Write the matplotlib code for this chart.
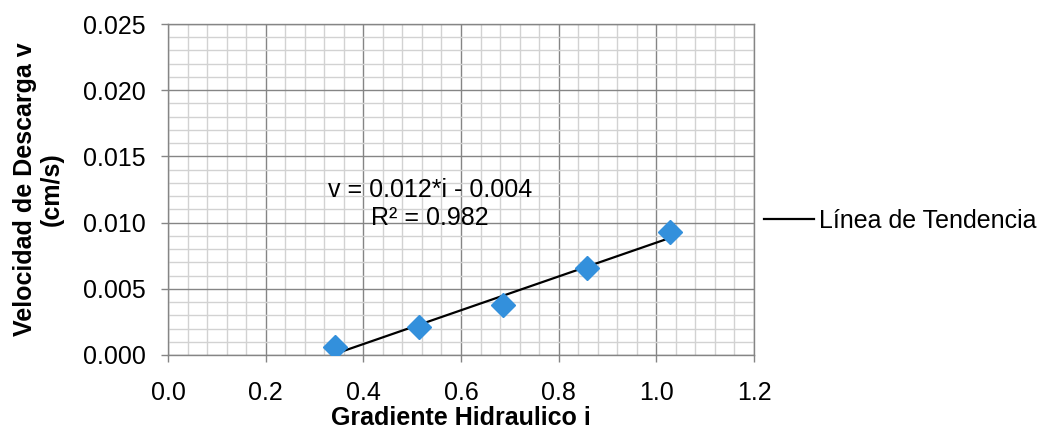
import numpy as np
import matplotlib
matplotlib.use("Agg")
import matplotlib.pyplot as plt
from matplotlib.ticker import MultipleLocator, FormatStrFormatter

# Data
gradiente = [0.343, 0.515, 0.686, 0.858, 1.029]
velocidad = [0.0006, 0.0021, 0.0038, 0.0066, 0.0093]
x_ticks = [0.0, 0.2, 0.4, 0.6, 0.8, 1.0, 1.2]
y_ticks = [0.000, 0.005, 0.010, 0.015, 0.020, 0.025]
ecuacion = "v = 0.012*i - 0.004\nR² = 0.982"
leyenda = "Línea de Tendencia"
xlabel = "Gradiente Hidraulico i"
ylabel = "Velocidad de Descarga v\n(cm/s)"

plt.rcParams['font.family'] = ['Liberation Sans', 'DejaVu Sans']

fig = plt.figure(figsize=(10.45, 4.29), dpi=100)
ax = fig.add_axes([168/1045, 1-355/429, (754-168)/1045, (355-24)/429])

ax.set_xlim(0, 1.2)
ax.set_ylim(0, 0.025)
ax.set_xticks(x_ticks)
ax.set_yticks(y_ticks)
ax.xaxis.set_major_formatter(FormatStrFormatter('%.1f'))
ax.yaxis.set_major_formatter(FormatStrFormatter('%.3f'))
ax.xaxis.set_minor_locator(MultipleLocator(0.04))
ax.yaxis.set_minor_locator(MultipleLocator(0.001))

ax.grid(which='minor', color='#d2d2d2', linewidth=1.0)
ax.grid(which='major', color='#858585', linewidth=1.0)
ax.set_axisbelow(True)
for s in ax.spines.values():
    s.set_color('#858585')
    s.set_linewidth(1.0)

ax.tick_params(which='major', direction='out', length=5, width=1, color='#858585',
               labelsize=18)
ax.tick_params(axis='x', which='major', pad=14)
ax.tick_params(axis='y', which='major', pad=11)
ax.tick_params(which='minor', length=0)

# Trend line from regression
coef = np.polyfit(gradiente, velocidad, 1)
xs = np.array([min(gradiente), max(gradiente)])
ax.plot(xs, np.polyval(coef, xs), color='black', linewidth=1.6, zorder=3, label=leyenda)
ax.plot(gradiente, velocidad, linestyle='none', marker='D', markersize=12,
        color='#3390dc', markeredgecolor='#3390dc', zorder=4)

ax.text(0.537, 0.0114, ecuacion, ha='center', va='center', fontsize=18,
        linespacing=1.2)

ax.set_xlabel(xlabel, fontsize=18, fontweight='bold', labelpad=0.5)
ax.set_ylabel(ylabel, fontsize=18, fontweight='bold', labelpad=14, linespacing=1.15)

ax.legend(loc='center left', bbox_to_anchor=(1.017, 0.405), frameon=False,
          fontsize=18, handlelength=2.0, handletextpad=0.2, borderpad=0,
          borderaxespad=0)

fig.savefig('out.png', dpi=100, facecolor='white')
